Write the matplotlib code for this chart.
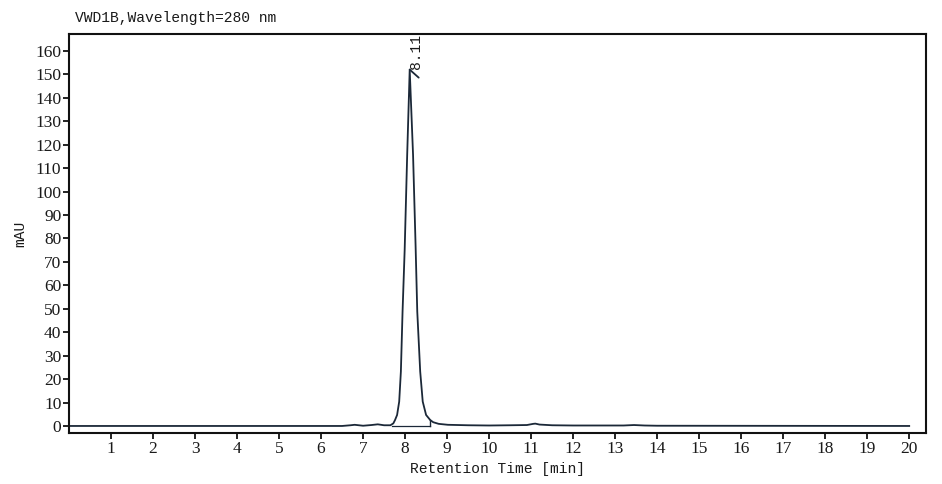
import matplotlib
matplotlib.use("Agg")
import matplotlib.pyplot as plt

# Chromatogram trace (time in min, signal in mAU)
times = [0.0, 6.5, 6.7, 6.8, 6.9, 7.0, 7.2, 7.35, 7.5, 7.65, 7.72, 7.76, 7.81,
         7.86, 7.90, 7.94, 7.99, 8.05, 8.11, 8.19, 8.25, 8.29, 8.36, 8.42,
         8.50, 8.60, 8.67, 8.80, 9.02, 9.5, 10.0, 10.5, 10.9, 11.05, 11.1,
         11.2, 11.5, 12.0, 13.2, 13.45, 13.7, 14.0, 20.0]
signal = [0.0, 0.0, 0.3, 0.5, 0.3, 0.1, 0.4, 0.7, 0.3, 0.3, 1.1, 2.5, 4.7,
          10.4, 23.2, 48.8, 75.0, 115.6, 152.0, 115.6, 77.0, 48.8, 23.2, 10.4,
          4.7, 2.5, 1.6, 0.9, 0.5, 0.3, 0.2, 0.3, 0.4, 0.9, 1.0,
          0.6, 0.3, 0.2, 0.2, 0.4, 0.2, 0.1, 0.0]

peak_time = 8.11
peak_height = 152.0
peak_label = "8.11"
peak_end_time = 8.60
peak_end_level = 2.5
baseline_start = 7.70

x_ticks = list(range(1, 21))
y_ticks = list(range(0, 161, 10))

title = "VWD1B,Wavelength=280 nm"
xlabel = "Retention Time [min]"
ylabel = "mAU"

line_color = "#1b2838"
text_color = "#1a1a1a"
mono = "Liberation Mono"
serif = "Liberation Serif"

fig = plt.figure(figsize=(9.42, 4.84), dpi=100)
ax = fig.add_axes([69 / 942, 1 - 433 / 484, (926 - 69) / 942, (433 - 34) / 484])

ax.plot(times, signal, color=line_color, lw=1.3, solid_joinstyle="round")
# integration baseline and end marker
ax.plot([baseline_start, peak_end_time], [0, 0], color=line_color, lw=0.9)
ax.plot([peak_end_time, peak_end_time], [0, peak_end_level], color=line_color, lw=1.0)

# peak annotation: short diagonal tick from the apex + rotated retention time
ax.annotate("", xy=(peak_time, peak_height), xytext=(9, -8),
            textcoords="offset pixels",
            arrowprops=dict(arrowstyle="-", color=line_color, lw=1.3,
                            shrinkA=0, shrinkB=0))
ax.annotate(peak_label, xy=(peak_time, peak_height), xytext=(6, 1),
            textcoords="offset pixels", rotation=90, ha="center", va="bottom",
            fontsize=10.5, family=mono, color=text_color)

ax.set_xlim(0, 20.4)
ax.set_ylim(-3.0, 167.2)
ax.set_xticks(x_ticks)
ax.set_yticks(y_ticks)
ax.set_xticklabels([str(v) for v in x_ticks], family=serif, fontsize=12.5, color=text_color)
ax.set_yticklabels([str(v) for v in y_ticks], family=serif, fontsize=12.5, color=text_color)
ax.tick_params(direction="out", length=4, width=1.3, pad=1.5, colors="#111111",
               labelcolor=text_color)
for s in ax.spines.values():
    s.set_linewidth(1.5)
    s.set_color("#111111")

ax.set_xlabel(xlabel, family=mono, fontsize=10.5, color=text_color, labelpad=4)
ax.set_ylabel(ylabel, family=mono, fontsize=10.5, color=text_color, labelpad=6)
fig.text(75 / 942, 1 - 18 / 484, title, family=mono, fontsize=10.5,
         color=text_color, ha="left", va="center")

fig.savefig("out.png", dpi=100)
